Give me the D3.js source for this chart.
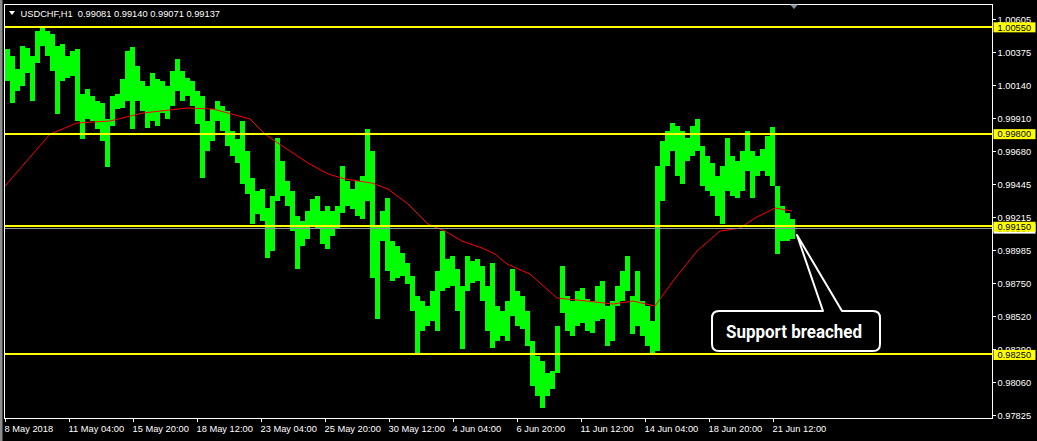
<!DOCTYPE html>
<html><head><meta charset="utf-8">
<script src="https://cdn.jsdelivr.net/npm/d3@7"></script>
<style>
html,body{margin:0;padding:0;background:#000;}
svg{display:block;}
text{font-family:"Liberation Sans",Arial,sans-serif;}
</style></head><body>
<svg id="c" width="1037" height="441"></svg>
<script>
// ---------------- data ----------------
const symbol = "USDCHF,H1";
const ohlc = ["0.99081", "0.99140", "0.99071", "0.99137"];
const groupSize = 5; // H1 bars per data group
const groupHigh = [
1.00394,1.00345,1.00254,1.00415,1.00401,1.00345,1.00520,1.00555,1.00520,1.00499,
1.00415,1.00429,1.00345,1.00380,1.00394,1.00078,1.00113,1.00064,1.00029,1.00015,
0.99903,1.00064,1.00078,1.00183,1.00380,1.00408,1.00275,1.00169,1.00134,1.00226,
1.00183,1.00169,1.00134,1.00240,1.00324,1.00240,1.00190,1.00169,1.00099,1.00064,
0.99889,0.99973,1.00029,0.99994,0.99959,0.99818,0.99762,0.99889,0.99678,0.99489,
0.99397,0.99411,0.99278,0.99362,0.99769,0.99608,0.99467,0.99397,0.99222,0.99187,
0.99257,0.99341,0.99362,0.99257,0.99292,0.99257,0.99292,0.99573,0.99467,0.99411,
0.99467,0.99502,0.99832,0.99678,0.99151,0.99257,0.99348,0.99046,0.99011,0.98962,
0.98892,0.98800,0.98660,0.98625,0.98590,0.98695,0.98836,0.99116,0.98920,0.98941,
0.98850,0.98730,0.98941,0.98906,0.98920,0.98871,0.98730,0.98892,0.98590,0.98555,
0.98625,0.98850,0.98695,0.98660,0.98555,0.98344,0.98239,0.98204,0.98120,0.98134,
0.98449,0.98871,0.98660,0.98625,0.98695,0.98716,0.98639,0.98625,0.98730,0.98765,
0.98590,0.98625,0.98730,0.98836,0.98941,0.98660,0.98836,0.98625,0.98590,0.98485,
0.99573,0.99748,0.99818,0.99875,0.99854,0.99818,0.99769,0.99854,0.99903,0.99713,
0.99643,0.99594,0.99502,0.99573,0.99769,0.99643,0.99608,0.99678,0.99818,0.99678,
0.99643,0.99692,0.99783,0.99847,0.99432,0.99292,0.99243,0.99201
];
const groupLow = [
1.00169,1.00015,1.00099,1.00134,1.00226,1.00029,1.00296,1.00415,1.00345,1.00240,
0.99938,1.00169,1.00190,1.00204,0.99889,0.99762,0.99903,0.99889,0.99832,0.99748,
0.99566,0.99854,0.99973,0.99980,1.00029,0.99832,1.00029,0.99959,0.99840,0.99889,
0.99854,0.99945,0.99903,0.99994,1.00099,1.00029,1.00064,0.99994,0.99868,0.99489,
0.99678,0.99748,0.99889,0.99818,0.99713,0.99643,0.99594,0.99446,0.99376,0.99165,
0.99236,0.99187,0.98927,0.98976,0.99327,0.99362,0.99292,0.99116,0.98850,0.99011,
0.99060,0.99151,0.99130,0.99025,0.98990,0.99081,0.99130,0.99243,0.99292,0.99271,
0.99222,0.99201,0.99327,0.98786,0.98499,0.99046,0.98836,0.98765,0.98786,0.98800,
0.98744,0.98555,0.98253,0.98414,0.98449,0.98485,0.98414,0.98695,0.98716,0.98730,
0.98555,0.98288,0.98695,0.98751,0.98765,0.98625,0.98414,0.98295,0.98344,0.98379,
0.98344,0.98520,0.98449,0.98428,0.98309,0.98028,0.97958,0.97874,0.97958,0.98007,
0.98120,0.98541,0.98414,0.98379,0.98449,0.98471,0.98414,0.98400,0.98485,0.98499,
0.98309,0.98344,0.98590,0.98625,0.98695,0.98393,0.98449,0.98379,0.98309,0.98253,
0.98274,0.99327,0.99573,0.99678,0.99502,0.99446,0.99608,0.99643,0.99678,0.99432,
0.99397,0.99362,0.99222,0.99165,0.99397,0.99362,0.99348,0.99397,0.99538,0.99348,
0.99502,0.99538,0.99502,0.99432,0.98955,0.99046,0.99046,0.99060
];
const maIndex = [0,45,72,105,138,182,208,245,260,273,303,323,340,367,383,403,423,440,457,477,490,502,525,552,582,608,628,650,668,692,715,735,750,770,787];
const maValue = [0.99432,0.99797,0.99875,0.99889,0.99945,0.99980,0.99973,0.99903,0.99797,0.99734,0.99594,0.99517,0.99482,0.99453,0.99411,0.99306,0.99165,0.99116,0.99046,0.98997,0.98955,0.98885,0.98814,0.98646,0.98625,0.98604,0.98625,0.98590,0.98765,0.98976,0.99116,0.99137,0.99208,0.99278,0.99257];
const levels = [1.00550, 0.99800, 0.99150, 0.98250];
const levelLabels = ["1.00550", "0.99800", "0.99150", "0.98250"];
const bid = 0.99137;
const bidLabel = "0.99137";
const priceTicks = [1.00605,1.00375,1.00140,0.99910,0.99680,0.99445,0.99215,0.98985,0.98750,0.98520,0.98290,0.98060,0.97825];
const timeTickIndex = [0,64,128,192,256,320,384,448,512,576,640,704,768];
const timeTickLabels = ["8 May 2018","11 May 04:00","15 May 20:00","18 May 12:00","23 May 04:00","25 May 20:00","30 May 12:00","4 Jun 04:00","6 Jun 20:00","11 Jun 12:00","14 Jun 04:00","18 Jun 20:00","21 Jun 12:00"];
const note = "Support breached";

// ---------------- layout ----------------
const svg = d3.select("#c");
const L = 4.5, R = 992.5, T = 4.5, B = 418.5;
const x = d3.scaleLinear().domain([0, 790]).range([5, 795]);
const y = d3.scaleLinear().domain([0.97825, 1.00605]).range([415, 19]);
const fs = "9.3px";

svg.append("rect").attr("width", 1037).attr("height", 441).attr("fill", "#000");
svg.append("rect").attr("x", 0).attr("y", 0).attr("width", 2.5).attr("height", 441).attr("fill", "#8c8c8c");

svg.append("clipPath").attr("id", "pc").append("rect")
  .attr("x", L + 0.5).attr("y", T + 0.5).attr("width", R - L - 1).attr("height", B - T - 1);
const plot = svg.append("g").attr("clip-path", "url(#pc)");

// price bars (high-low range per group of H1 bars)
plot.append("g").selectAll("rect").data(groupHigh).join("rect")
  .attr("x", (d, i) => x(i * groupSize))
  .attr("width", x(groupSize) - x(0))
  .attr("y", d => y(d))
  .attr("height", (d, i) => Math.max(1, y(groupLow[i]) - y(d)))
  .attr("fill", "#00ff00")
  .attr("shape-rendering", "crispEdges");

// moving average
plot.append("path")
  .datum(maIndex.map((d, i) => [d, maValue[i]]))
  .attr("d", d3.line().x(d => x(d[0])).y(d => y(d[1])))
  .attr("fill", "none").attr("stroke", "#ff0000").attr("stroke-width", 1);

// bid line
plot.append("line").attr("x1", L).attr("x2", R)
  .attr("y1", Math.round(y(bid)) + 0.5).attr("y2", Math.round(y(bid)) + 0.5)
  .attr("stroke", "#8a96a0").attr("stroke-width", 1);

// horizontal levels
plot.append("g").selectAll("line").data(levels).join("line")
  .attr("x1", L).attr("x2", R)
  .attr("y1", d => y(d)).attr("y2", d => y(d))
  .attr("stroke", "#ffff00").attr("stroke-width", 2)
  .attr("shape-rendering", "crispEdges");

// frame
svg.append("rect").attr("x", L).attr("y", T).attr("width", R - L).attr("height", B - T)
  .attr("fill", "none").attr("stroke", "#ffffff").attr("stroke-width", 1);

// chart-shift marker
svg.append("path").attr("d", "M790,4.5 L798,4.5 L794,9 Z").attr("fill", "#8090a0");

// header
svg.append("path").attr("d", "M9,11 L15,11 L12,15 Z").attr("fill", "#ffffff");
svg.append("text").attr("x", 20.5).attr("y", 16.8).attr("fill", "#ffffff").style("font-size", fs)
  .attr("xml:space", "preserve")
  .text(symbol + "  " + ohlc.join(" "));

// right axis
const ra = svg.append("g");
priceTicks.forEach(t => {
  const yy = Math.round(y(t)) + 0.5;
  ra.append("line").attr("x1", R).attr("x2", R + 3.5).attr("y1", yy).attr("y2", yy).attr("stroke", "#fff");
  ra.append("text").attr("x", 997.5).attr("y", yy + 3.5).attr("fill", "#fff").style("font-size", fs).text(t.toFixed(5));
});
// bid label
ra.append("rect").attr("x", 993.5).attr("y", y(bid) - 4.5).attr("width", 42).attr("height", 10).attr("fill", "#ffffff");
ra.append("text").attr("x", 997.5).attr("y", y(bid) + 3.8).attr("fill", "#000").style("font-size", fs).text(bidLabel);
// level labels
levels.forEach((lv, i) => {
  ra.append("rect").attr("x", 993.5).attr("y", y(lv) - 4.5).attr("width", 42).attr("height", 10).attr("fill", "#ffff00");
  ra.append("text").attr("x", 997.5).attr("y", y(lv) + 3.8).attr("fill", "#000").style("font-size", fs).text(levelLabels[i]);
});

// bottom axis
const ba = svg.append("g");
timeTickIndex.forEach((t, i) => {
  const xx = Math.round(x(t)) + 0.5;
  ba.append("line").attr("x1", xx).attr("x2", xx).attr("y1", B).attr("y2", B + 3.5).attr("stroke", "#fff");
  ba.append("text").attr("x", xx - 1).attr("y", 432).attr("fill", "#fff").style("font-size", fs).text(timeTickLabels[i]);
});

// callout
svg.append("path")
  .attr("d", "M823,311 L797,235 L842,311 L873,311 Q880,311 880,318 L880,344 Q880,351 873,351 L719,351 Q712,351 712,344 L712,318 Q712,311 719,311 Z")
  .attr("fill", "#000").attr("stroke", "#ffffff").attr("stroke-width", 2).attr("stroke-linejoin", "round");
svg.append("text").attr("x", 794).attr("y", 337.5).attr("text-anchor", "middle")
  .attr("fill", "#ffffff").style("font-family", "Roboto, 'Liberation Sans', Arial, sans-serif")
  .style("font-weight", "bold").style("font-size", "17.5px")
  .attr("textLength", 136).attr("lengthAdjust", "spacingAndGlyphs")
  .text(note);
</script>
</body></html>
